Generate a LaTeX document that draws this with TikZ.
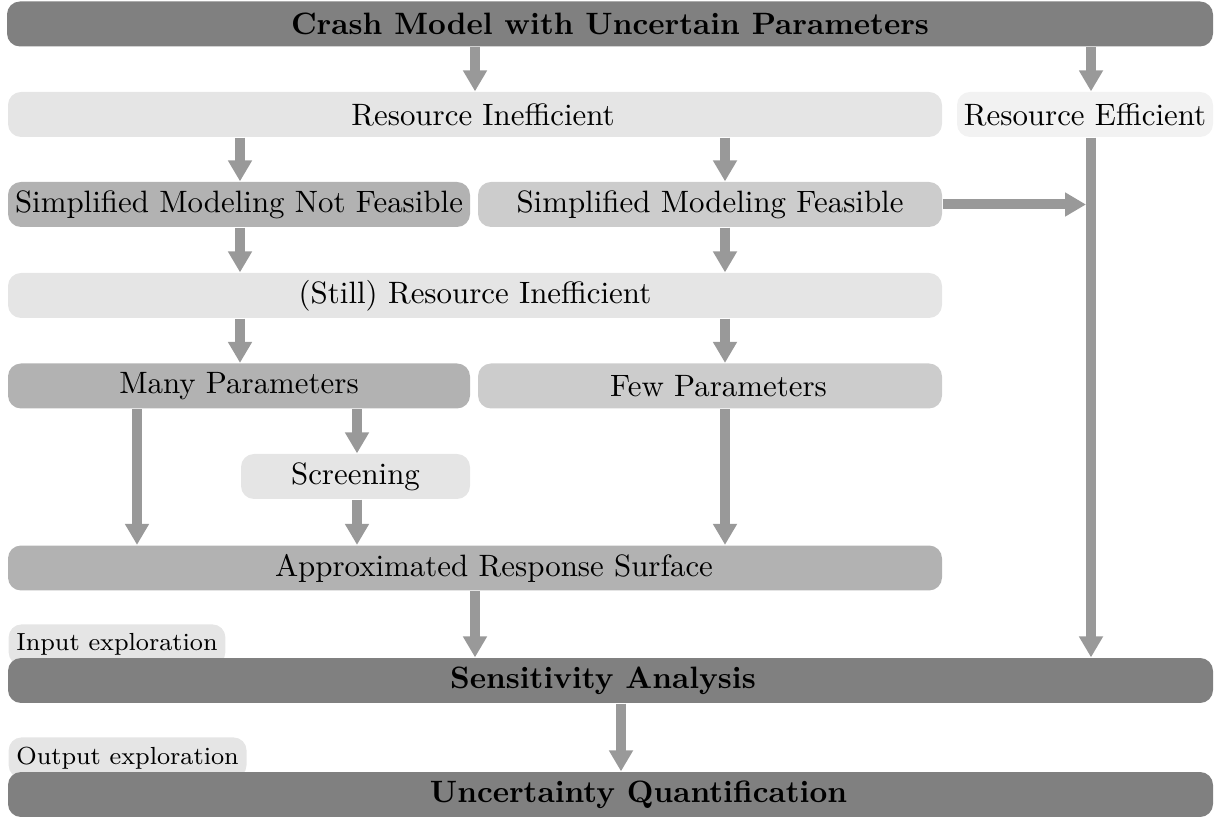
\documentclass[tikz,border=0pt]{standalone}
\usetikzlibrary{arrows.meta}
\begin{document}
\begin{tikzpicture}[x=0.3236pt,y=-0.3236pt,
  box/.style={rounded corners=4.2pt, inner sep=0pt, minimum height=14.56pt},
  w/.style={minimum width=#1*0.3236pt},
  dark/.style={box, fill=black!50, font=\bfseries},
  mid/.style={box, fill=black!30},
  pale/.style={box, fill=black!20},
  light/.style={box, fill=black!10},
  faint/.style={box, fill=black!5},
  lbl/.style={fill=black!10, rounded corners=4.2pt, font=\footnotesize, inner xsep=2.5pt, inner ysep=3pt, text height=5.6pt, text depth=1.6pt},
  arr/.style={draw=black!40, line width=3.24pt, -{Triangle[width=7.4pt,length=6.8pt]}}
]
\useasboundingbox (0,0) rectangle (1229,819);

% column coordinates
\coordinate (cA) at (475,0);
\coordinate (cE) at (1091,0);
\coordinate (cL) at (240,0);
\coordinate (cR) at (725,0);
\coordinate (cM) at (137,0);
\coordinate (cS) at (357,0);
\coordinate (cU) at (621,0);

\node[dark, w=1206] (crash) at (610,24) {Crash Model with Uncertain Parameters};
\node[light, w=934] (ri) at (475,114.5) {\hspace*{5.2pt}Resource Inefficient};
\node[faint, w=256] (re) at (1085,114.5) {Resource Efficient};
\node[mid, w=462] (smnf) at (239,204.5) {Simplified Modeling Not Feasible};
\node[pale, w=464] (smf) at (710,204.5) {Simplified Modeling Feasible};
\node[light, w=934] (still) at (475,295.5) {(Still) Resource Inefficient};
\node[mid, w=462] (many) at (239,386) {Many Parameters};
\node[pale, w=464] (few) at (710,386) {\hspace*{5.5pt}Few Parameters};
\node[light, w=229] (scr) at (355.5,476.5) {Screening};
\node[mid, w=934] (ars) at (475,568) {\hspace*{12.3pt}Approximated Response Surface};

\node[lbl, anchor=base west] (inp) at (8,651) {Input exploration};
\node[lbl, anchor=base west] (outp) at (8,764) {Output exploration};

\node[dark, w=1205] (sa) at (610.5,680.5) {Sensitivity Analysis\hspace*{4.9pt}};
\node[dark, w=1205] (uq) at (610.5,794.5) {\hspace*{18.1pt}Uncertainty Quantification};

\coordinate (join) at (1086,204.5);

\draw[arr] (crash.south -| cA) -- (ri.north -| cA);
\draw[arr] (crash.south -| cE) -- (re.north -| cE);
\draw[arr] (ri.south -| cL) -- (smnf.north -| cL);
\draw[arr] (ri.south -| cR) -- (smf.north -| cR);
\draw[arr] (smf.east) -- (join);
\draw[arr] (smnf.south -| cL) -- (still.north -| cL);
\draw[arr] (smf.south -| cR) -- (still.north -| cR);
\draw[arr] (still.south -| cL) -- (many.north -| cL);
\draw[arr] (still.south -| cR) -- (few.north -| cR);
\draw[arr] (many.south -| cM) -- (ars.north -| cM);
\draw[arr] (many.south -| cS) -- (scr.north -| cS);
\draw[arr] (scr.south -| cS) -- (ars.north -| cS);
\draw[arr] (few.south -| cR) -- (ars.north -| cR);
\draw[arr] (ars.south -| cA) -- (sa.north -| cA);
\draw[arr] (re.south -| cE) -- (sa.north -| cE);
\draw[arr] (sa.south -| cU) -- (uq.north -| cU);
\end{tikzpicture}
\end{document}
